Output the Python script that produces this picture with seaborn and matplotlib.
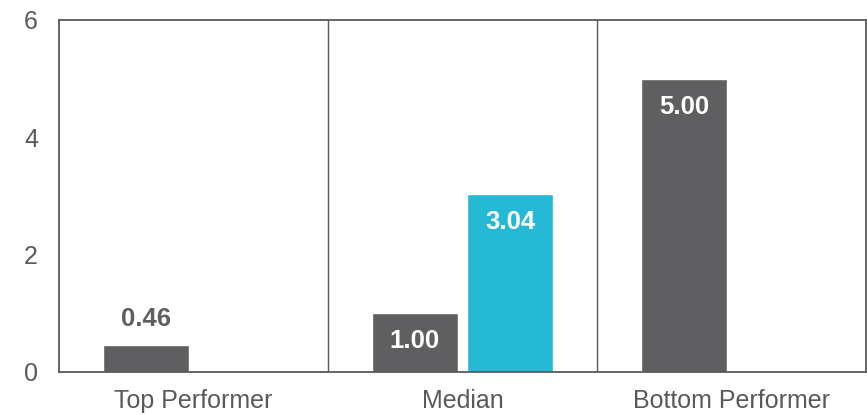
import matplotlib
matplotlib.use("Agg")
import matplotlib.pyplot as plt
import seaborn as sns
import pandas as pd
import numpy as np

categories = ["Top Performer", "Median", "Bottom Performer"]
series_names = ["A", "B"]
series_a = [0.46, 1.00, 5.00]
series_b = [np.nan, 3.04, np.nan]
y_ticks = [0, 2, 4, 6]

sns.set_style("white")
plt.rcParams['font.family'] = ['Liberation Sans', 'DejaVu Sans']

df = pd.DataFrame({
    "category": categories * 2,
    "series": [series_names[0]] * 3 + [series_names[1]] * 3,
    "value": series_a + series_b,
})

gray = "#5f5f61"
cyan = "#25b9d6"
axis_col = "#595959"

fig = plt.figure(figsize=(8.67, 4.15), dpi=100)
ax = fig.add_axes([0.068, 0.104, 0.931, 0.848])
sns.barplot(data=df, x="category", y="value", hue="series", order=categories,
            hue_order=series_names, palette=[gray, cyan], width=0.71, gap=0.1,
            saturation=1, legend=False, ax=ax, errorbar=None)

ax.set_ylim(0, 6)
ax.set_xlim(-0.5, 2.5)
ax.set_yticks(y_ticks)
ax.set_yticklabels([str(t) for t in y_ticks])
ax.tick_params(axis="y", length=0, pad=15, labelsize=18, labelcolor=axis_col)
ax.tick_params(axis="x", length=0, pad=12, labelsize=18, labelcolor=axis_col)
ax.set_xlabel("")
ax.set_ylabel("")
for s in ax.spines.values():
    s.set_color(axis_col)
    s.set_linewidth(1.3)
for xb in [0.5, 1.5]:
    ax.axvline(xb, color=axis_col, linewidth=1.0)

for cont in ax.containers:
    for bar in cont:
        h = bar.get_height()
        if np.isnan(h) or h == 0:
            continue
        cx = bar.get_x() + bar.get_width() / 2
        if h < 0.8:
            ax.text(cx, h + 0.44, f"{h:.2f}", ha="center", va="center",
                    color=gray, fontsize=18.5, fontweight="bold")
        else:
            ax.text(cx, h - 0.48, f"{h:.2f}", ha="center", va="center",
                    color="white", fontsize=18.5, fontweight="bold")

fig.savefig("out.png", dpi=100)
